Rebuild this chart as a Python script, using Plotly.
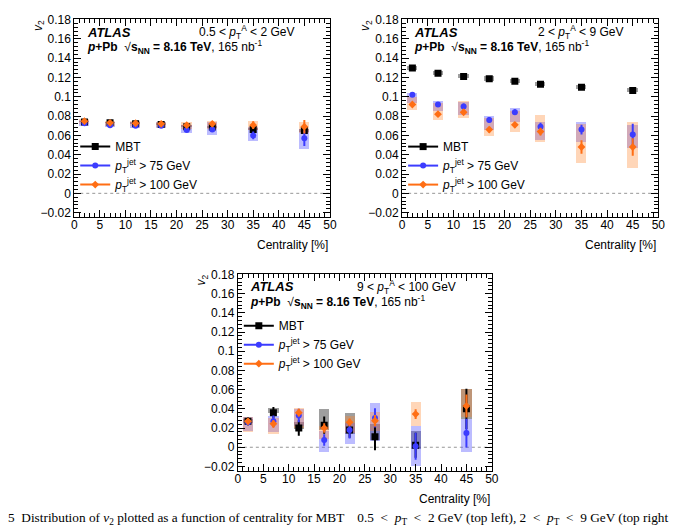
import plotly.graph_objects as go

W, H = 690, 531

# ---------------- data ----------------
cent = [2, 7, 12, 17, 22, 27, 35, 45]

# panel A : 0.5 < pT < 2 GeV
mbt_a = [0.074, 0.073, 0.072, 0.0713, 0.069, 0.0686, 0.066, 0.065]
mbt_a_stat = [0.0005, 0.0005, 0.0005, 0.0005, 0.0005, 0.0006, 0.0007, 0.0008]
mbt_a_lo = [0.073, 0.072, 0.071, 0.070, 0.068, 0.0675, 0.0648, 0.0635]
mbt_a_hi = [0.075, 0.074, 0.073, 0.0725, 0.070, 0.0697, 0.0672, 0.0665]
j75_a = [0.0726, 0.0706, 0.070, 0.070, 0.0655, 0.066, 0.060, 0.057]
j75_a_stat = [0.0015, 0.0015, 0.0015, 0.0015, 0.002, 0.0025, 0.004, 0.008]
j75_a_lo = [0.069, 0.068, 0.067, 0.067, 0.062, 0.060, 0.054, 0.046]
j75_a_hi = [0.076, 0.074, 0.073, 0.073, 0.070, 0.073, 0.068, 0.066]
j100_a = [0.0747, 0.073, 0.0726, 0.072, 0.0706, 0.072, 0.0706, 0.069]
j100_a_stat = [0.0015, 0.0015, 0.0015, 0.0015, 0.002, 0.003, 0.004, 0.007]
j100_a_lo = [0.071, 0.069, 0.069, 0.068, 0.066, 0.066, 0.065, 0.062]
j100_a_hi = [0.077, 0.075, 0.075, 0.074, 0.074, 0.075, 0.075, 0.074]

# panel B : 2 < pT < 9 GeV
mbt_b = [0.1297, 0.1243, 0.121, 0.1186, 0.116, 0.113, 0.110, 0.1064]
mbt_b_stat = [0.0005, 0.0005, 0.0005, 0.0005, 0.0005, 0.0006, 0.0007, 0.0008]
mbt_b_lo = [0.1274, 0.1220, 0.1187, 0.1163, 0.1137, 0.1107, 0.1077, 0.1041]
mbt_b_hi = [0.1320, 0.1266, 0.1233, 0.1209, 0.1183, 0.1153, 0.1123, 0.1087]
j75_b = [0.102, 0.092, 0.090, 0.076, 0.084, 0.069, 0.066, 0.061]
j75_b_stat = [0.002, 0.002, 0.003, 0.003, 0.003, 0.004, 0.005, 0.011]
j75_b_lo = [0.093, 0.085, 0.081, 0.065, 0.073, 0.055, 0.053, 0.047]
j75_b_hi = [0.104, 0.095, 0.094, 0.080, 0.088, 0.073, 0.073, 0.070]
j100_b = [0.092, 0.082, 0.084, 0.066, 0.071, 0.064, 0.048, 0.048]
j100_b_stat = [0.002, 0.002, 0.003, 0.003, 0.003, 0.004, 0.007, 0.009]
j100_b_lo = [0.086, 0.076, 0.078, 0.0595, 0.063, 0.053, 0.031, 0.026]
j100_b_hi = [0.099, 0.093, 0.095, 0.078, 0.085, 0.081, 0.071, 0.074]

# panel C : 9 < pT < 100 GeV
mbt_c = [0.027, 0.036, 0.020, 0.023, 0.018, 0.011, 0.002, 0.040]
mbt_c_stat = [0.004, 0.006, 0.008, 0.009, 0.008, 0.014, 0.013, 0.021]
mbt_c_lo = [0.025, 0.035, 0.019, 0.018, 0.014, 0.007, -0.0025, 0.029]
mbt_c_hi = [0.029, 0.041, 0.026, 0.040, 0.036, 0.024, 0.017, 0.061]
j75_c = [0.026, 0.027, 0.033, 0.0075, 0.018, 0.0305, 0.001, 0.0148]
j75_c_stat = [0.003, 0.006, 0.007, 0.006, 0.009, 0.010, 0.014, 0.015]
j75_c_lo = [0.017, 0.016, 0.022, -0.005, 0.003, 0.0065, -0.0197, -0.005]
j75_c_hi = [0.031, 0.032, 0.040, 0.017, 0.025, 0.046, 0.0224, 0.029]
j100_c = [0.027, 0.0244, 0.036, 0.020, 0.026, 0.0276, 0.0345, 0.043]
j100_c_stat = [0.003, 0.004, 0.004, 0.005, 0.004, 0.006, 0.005, 0.012]
j100_c_lo = [0.016, 0.014, 0.020, 0.008, 0.015, 0.017, 0.0224, 0.031]
j100_c_hi = [0.031, 0.030, 0.041, 0.022, 0.032, 0.0366, 0.0466, 0.060]

pt_ranges = ["0.5 &lt; <i>p</i><sub>T</sub><sup>A</sup> &lt; 2 GeV",
             "2 &lt; <i>p</i><sub>T</sub><sup>A</sup> &lt; 9 GeV",
             "9 &lt; <i>p</i><sub>T</sub><sup>A</sup> &lt; 100 GeV"]
series_names = ["MBT",
                "<i>p</i><sub>T</sub><sup>jet</sup> &gt; 75 GeV",
                "<i>p</i><sub>T</sub><sup>jet</sup> &gt; 100 GeV"]
x_ticks = [0, 5, 10, 15, 20, 25, 30, 35, 40, 45, 50]

# ---------------- style ----------------
FONT = "Liberation Sans, Arial, Helvetica, sans-serif"
C_MBT, C_75, C_100 = "black", "rgb(60,60,255)", "rgb(255,110,20)"
B_MBT, B_75, B_100 = "rgba(0,0,0,0.38)", "rgba(70,70,255,0.36)", "rgba(255,130,40,0.33)"
SYM = ["square", "circle", "diamond"]
SIZE = [7, 6, 6]


def px(x):
    return x / W


def py(y):
    return 1 - y / H


panels = [
    dict(ax="", dom_x=(72.3, 331.7), dom_y=(12.6, 214.0),
         data=[(mbt_a, mbt_a_stat, mbt_a_lo, mbt_a_hi),
               (j75_a, j75_a_stat, j75_a_lo, j75_a_hi),
               (j100_a, j100_a_stat, j100_a_lo, j100_a_hi)],
         leg_y=127.5),
    dict(ax="2", dom_x=(405.0, 665.0), dom_y=(12.6, 214.0),
         data=[(mbt_b, mbt_b_stat, mbt_b_lo, mbt_b_hi),
               (j75_b, j75_b_stat, j75_b_lo, j75_b_hi),
               (j100_b, j100_b_stat, j100_b_lo, j100_b_hi)],
         leg_y=127.5),
    dict(ax="3", dom_x=(238.3, 496.0), dom_y=(272.3, 472.7),
         data=[(mbt_c, mbt_c_stat, mbt_c_lo, mbt_c_hi),
               (j75_c, j75_c_stat, j75_c_lo, j75_c_hi),
               (j100_c, j100_c_stat, j100_c_lo, j100_c_hi)],
         leg_y=310.0),
]

fig = go.Figure()
line_cols = [C_MBT, C_75, C_100]
box_cols = [B_MBT, B_75, B_100]
annotations = []
shapes = []
layout_axes = {}

for i, p in enumerate(panels):
    xa = "x" + p["ax"]
    ya = "y" + p["ax"]
    leg = "legend" if i == 0 else "legend%d" % (i + 1)
    # systematic boxes
    for k, (val, stat, lo, hi) in enumerate(p["data"]):
        fig.add_trace(go.Bar(
            x=cent, y=[h - l for h, l in zip(hi, lo)], base=lo, width=2.0,
            marker=dict(color=box_cols[k], line=dict(width=0)),
            xaxis=xa, yaxis=ya, showlegend=False, hoverinfo="skip"))
    # points with statistical errors
    for k, (val, stat, lo, hi) in enumerate(p["data"]):
        fig.add_trace(go.Scatter(
            x=cent, y=val, mode="markers",
            error_y=dict(type="data", array=stat, width=0, thickness=2, color=line_cols[k]),
            marker=dict(symbol=SYM[k], size=SIZE[k], color=line_cols[k]),
            xaxis=xa, yaxis=ya, showlegend=False))
    # legend entries
    for k in range(3):
        fig.add_trace(go.Scatter(
            x=[None], y=[None], mode="lines+markers", name=series_names[k],
            line=dict(color=line_cols[k], width=2),
            marker=dict(symbol=SYM[k], size=SIZE[k], color=line_cols[k]),
            xaxis=xa, yaxis=ya, legend=leg, showlegend=True))

    x0, x1 = p["dom_x"]
    y0, y1 = p["dom_y"]
    axis_common = dict(showline=True, linecolor="black", linewidth=1, mirror="allticks",
                       ticks="inside", ticklen=7, tickwidth=1, tickcolor="black",
                       showgrid=False, zeroline=False,
                       tickfont=dict(family=FONT, size=12, color="black"))
    layout_axes["xaxis" + p["ax"]] = dict(
        axis_common, domain=[px(x0), px(x1)], range=[0, 50], anchor=ya,
        tickvals=x_ticks, ticklabelstandoff=-3,
        minor=dict(ticks="inside", ticklen=4, dtick=1, tick0=0, tickcolor="black"))
    layout_axes["yaxis" + p["ax"]] = dict(
        axis_common, domain=[py(y1), py(y0)], range=[-0.0245, 0.1802], anchor=xa,
        dtick=0.02, tick0=0,
        minor=dict(ticks="inside", ticklen=4, dtick=0.004, tick0=0, tickcolor="black"))

    layout_axes[leg] = dict(x=px(x0 + 1), y=py(p["leg_y"]), xanchor="left", yanchor="top",
                            bgcolor="rgba(0,0,0,0)", font=dict(family=FONT, size=12, color="black"),
                            itemwidth=30, tracegroupgap=0)

    # dotted zero line
    shapes.append(dict(type="line", xref=xa, yref=ya, x0=0, x1=50, y0=0, y1=0,
                       line=dict(color="rgb(150,150,150)", width=1, dash="dot"), layer="below"))

    top = y0
    annotations += [
        dict(text="<b><i>ATLAS</i></b>", x=px(x0 + 10.5), y=py(top + 13), xanchor="left",
             yanchor="middle", font=dict(family=FONT, size=13)),
        dict(text="<b><i>p</i>+Pb</b>  √<b>s<sub>NN</sub> = 8.16 TeV</b>, 165 nb<sup>-1</sup>",
             x=px(x0 + 10.5), y=py(top + 28.5), xanchor="left", yanchor="middle",
             font=dict(family=FONT, size=12)),
        dict(text=pt_ranges[i], x=px(x1 - 34), y=py(top + 13), xanchor="right",
             yanchor="middle", font=dict(family=FONT, size=12)),
        dict(text="Centrality [%]", x=px(x1), y=py(y1 + 29), xanchor="right",
             yanchor="middle", font=dict(family=FONT, size=12)),
        dict(text="<i>v</i><sub>2</sub>", x=px(x0 - 36), y=py(top + 6), xanchor="center",
             yanchor="middle", textangle=-90, font=dict(family=FONT, size=12)),
    ]

caption = ("5  Distribution of <i>v</i><sub>2</sub> plotted as a function of centrality for MBT"
           "    0.5  &lt;  <i>p</i><sub>T</sub>  &lt;  2 GeV (top left), 2  &lt;  "
           "<i>p</i><sub>T</sub>  &lt;  9 GeV (top right")
annotations.append(dict(text=caption, x=px(3), y=py(521.5), xanchor="left", yanchor="middle",
                        font=dict(family="Liberation Serif, Times New Roman, serif", size=13.3)))
for a in annotations:
    a.setdefault("xref", "paper")
    a.setdefault("yref", "paper")
    a.setdefault("showarrow", False)
    a["font"]["color"] = "black"

fig.update_layout(
    width=W, height=H, autosize=False,
    margin=dict(l=0, r=0, t=0, b=0),
    paper_bgcolor="white", plot_bgcolor="white",
    barmode="overlay", bargap=0,
    annotations=annotations, shapes=shapes,
    font=dict(family=FONT, size=12, color="black"),
    **layout_axes)

fig.write_html("out.html")
